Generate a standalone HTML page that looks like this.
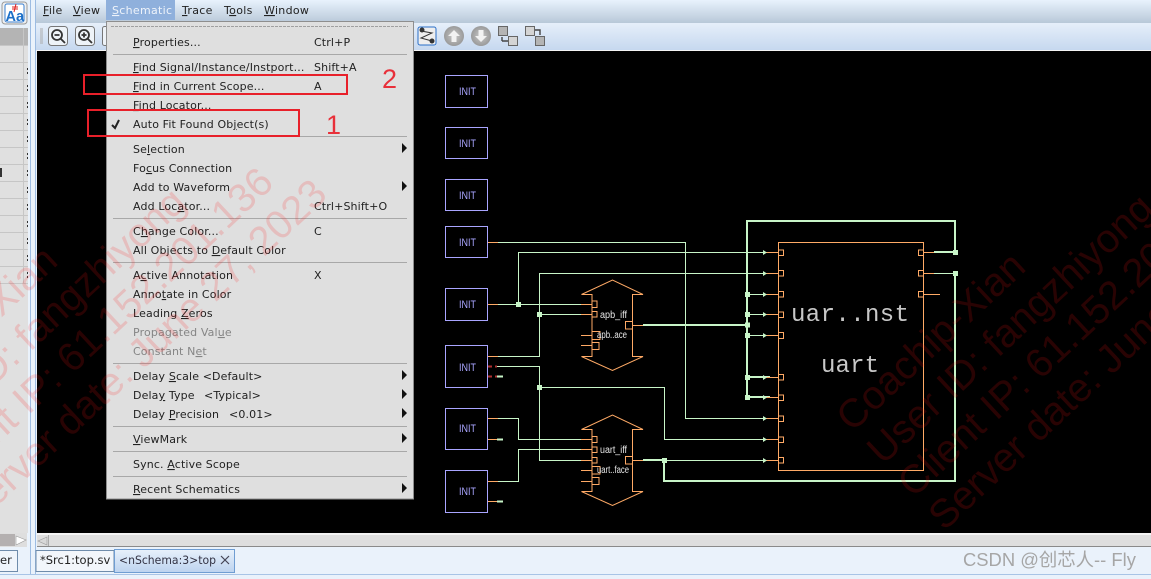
<!DOCTYPE html>
<html><head><meta charset="utf-8"><style>
html,body{margin:0;padding:0;background:#000}
svg{display:block}
.m text{font:11px "DejaVu Sans",sans-serif;fill:#222;letter-spacing:.13px}
.m text.d{fill:#858585}
.u{text-decoration:underline}
.g{stroke:#c8f5c8;fill:none;stroke-width:1}
.t{stroke:#c8f5c8;fill:none;stroke-width:2}
.o{stroke:#ffaa66;fill:none;stroke-width:1}
.b{stroke:#a9a5ff;fill:none;stroke-width:1}
.j{fill:#c8f5c8}
.il{font:11px "Liberation Sans",sans-serif;fill:#a9a5ff}
.l{font:10px "Liberation Sans",sans-serif;fill:#e8e8e8}
.big{font:24px "Liberation Mono",monospace;fill:#c8c8c8}
.w text{font:40px "Liberation Sans",sans-serif;fill:#ff1010;fill-opacity:.16}
</style></head><body>
<svg xmlns="http://www.w3.org/2000/svg" width="1151" height="579" viewBox="0 0 1151 579">
<defs>
<linearGradient id="mb" x1="0" y1="0" x2="0" y2="1"><stop offset="0" stop-color="#e8f2fd"/><stop offset="1" stop-color="#b8c8d8"/></linearGradient>
<linearGradient id="tb" x1="0" y1="0" x2="0" y2="1"><stop offset="0" stop-color="#e6effa"/><stop offset="1" stop-color="#c6d8ef"/></linearGradient>
<linearGradient id="tab" x1="0" y1="0" x2="0" y2="1"><stop offset="0" stop-color="#e8f1fb"/><stop offset="1" stop-color="#bcd3ef"/></linearGradient>
<radialGradient id="rb"><stop offset="0" stop-color="#c8c8c8"/><stop offset="1" stop-color="#9a9a9a"/></radialGradient>
</defs>
<rect width="1151" height="579" fill="#eaf2fb"/>
<!-- left panel -->
<rect x="0" y="0" width="30" height="28" fill="#e8f1fb"/>
<rect x="0" y="28" width="28" height="17" fill="#b4b4b4"/>
<rect x="0" y="45" width="28" height="488" fill="#e0e0e0"/>
<g stroke="#c6c6c6" stroke-width="1">
<path d="M0 45.5H28M0 62.5H28M0 79.5H28M0 96.5H28M0 113.5H28M0 130.5H28M0 147.5H28M0 164.5H28M0 181.5H28M0 198.5H28M0 215.5H28M0 232.5H28M0 249.5H28M0 266.5H28M0 283.5H28M23.5 28V284"/>
</g>
<g fill="#333"><rect x="27" y="68" width="1" height="2"/><rect x="27" y="72" width="1" height="2"/><rect x="27" y="85" width="1" height="2"/><rect x="27" y="89" width="1" height="2"/><rect x="27" y="102" width="1" height="2"/><rect x="27" y="106" width="1" height="2"/><rect x="27" y="119" width="1" height="2"/><rect x="27" y="123" width="1" height="2"/><rect x="27" y="136" width="1" height="2"/><rect x="27" y="140" width="1" height="2"/><rect x="27" y="153" width="1" height="2"/><rect x="27" y="157" width="1" height="2"/><rect x="27" y="170" width="1" height="2"/><rect x="27" y="174" width="1" height="2"/><rect x="27" y="187" width="1" height="2"/><rect x="27" y="191" width="1" height="2"/><rect x="27" y="204" width="1" height="2"/><rect x="27" y="208" width="1" height="2"/><rect x="27" y="221" width="1" height="2"/><rect x="27" y="225" width="1" height="2"/><rect x="27" y="238" width="1" height="2"/><rect x="27" y="242" width="1" height="2"/><rect x="27" y="255" width="1" height="2"/><rect x="27" y="259" width="1" height="2"/><rect x="27" y="272" width="1" height="2"/><rect x="27" y="276" width="1" height="2"/><rect x="0" y="168" width="2" height="9"/></g>
<rect x="0" y="533" width="27" height="14" fill="#dedede"/>
<rect x="0" y="534" width="15" height="12" fill="#b4b0b0"/>
<path d="M16 536L26 540L16 545Z" fill="#fff" stroke="#999" stroke-width=".6"/>
<rect x="0" y="547" width="28" height="27" fill="#eaf2fb"/>
<path d="M0 550.5H17.5V571.5H0" fill="#f0f5fb" stroke="#6f8cab"/>
<text x="0" y="564" font-family="DejaVu Sans" font-size="11.5" fill="#222">er</text>
<!-- icon Aa -->
<rect x="2" y="2" width="25" height="22" rx="3" fill="#f0f0f0" stroke="#999"/>
<rect x="5" y="4" width="19" height="18" rx="2" fill="#fff" stroke="#3a7fd0"/>
<text x="5.500" y="21" font-family="Liberation Sans" font-weight="bold" font-size="14.500" fill="#1d70c8">Aa</text>
<path d="M12 7H18M12 9H18M16 4L14 12" stroke="#e02020" fill="none" stroke-width="1"/>
<!-- separators -->
<rect x="30" y="0" width="1" height="574" fill="#9dbce2"/>
<rect x="35" y="0" width="1" height="574" fill="#9dbce2"/>
<rect x="31" y="0" width="4" height="574" fill="#eaf2fb"/>
<!-- menubar / toolbar -->
<rect x="36" y="0" width="1115" height="23" fill="url(#mb)"/>
<rect x="36" y="23" width="1115" height="27" fill="url(#tb)"/>
<rect x="36" y="50" width="1115" height="1" fill="#f4f4f4"/>
<rect x="106" y="0" width="69" height="20" fill="#8fb0dc"/>
<g font-family="DejaVu Sans" font-size="11" fill="#222" letter-spacing=".3">
<text x="43" y="14"><tspan class="u">F</tspan>ile</text>
<text x="73" y="14"><tspan class="u">V</tspan>iew</text>
<text x="112" y="14" fill="#eef3fa"><tspan class="u">S</tspan>chematic</text>
<text x="182" y="14"><tspan class="u">T</tspan>race</text>
<text x="224" y="14">T<tspan class="u">o</tspan>ols</text>
<text x="264" y="14"><tspan class="u">W</tspan>indow</text>
</g>
<!-- toolbar icons -->
<path d="M40 29H43M40 31H43M40 33H43M40 35H43M40 37H43M40 39H43M40 41H43M40 43H43" stroke="#aaa"/>
<g fill="#eef3f8" stroke="#777"><rect x="48.500" y="26.500" width="19" height="19" rx="3"/><rect x="75.500" y="26.500" width="19" height="19" rx="3"/><rect x="102.500" y="26.500" width="8" height="19" rx="2"/></g>
<g fill="none" stroke="#333" stroke-width="1.800"><circle cx="57" cy="35" r="5"/><path d="M61 39L65 43M54.500 35H59.500"/><circle cx="84" cy="35" r="5"/><path d="M88 39L92 43M81.500 35H86.500M84 32.500V37.500"/></g>
<rect x="418" y="27" width="18" height="18" rx="2" fill="#eee" stroke="#2a6fc8"/>
<path d="M421 31L432 33L421 38L432 41" stroke="#333" fill="none"/>
<circle cx="422" cy="30" r="2.500" fill="#333"/><circle cx="432" cy="41" r="2.500" fill="#333"/>
<circle cx="454" cy="36" r="10" fill="url(#rb)"/><path d="M454 30L460 36H456.500V42H451.500V36H448Z" fill="#f2f2f2"/>
<circle cx="481" cy="36" r="10" fill="url(#rb)"/><path d="M481 42L487 36H483.500V30H478.500V36H475Z" fill="#f2f2f2"/>
<g fill="#b4b4b4" stroke="#666"><rect x="498.500" y="26.500" width="9" height="9"/><rect x="508.500" y="36.500" width="9" height="9" fill="#d4d4d4"/><rect x="525.500" y="26.500" width="9" height="9" fill="#d4d4d4"/><rect x="535.500" y="36.500" width="9" height="9"/></g>
<path d="M502 41H508M502 41V37M535 30H540V35" stroke="#444" fill="none" stroke-width="1.400"/>
<!-- canvas -->
<rect x="37" y="51" width="1114" height="482" fill="#000"/>
<!-- INIT boxes -->
<g class="b">
<rect x="445.500" y="75.500" width="42" height="32" class="b"/>
<rect x="445.500" y="127.500" width="42" height="31" class="b"/>
<rect x="445.500" y="179.500" width="42" height="31" class="b"/>
<rect x="445.500" y="226.500" width="42" height="31" class="b"/>
<rect x="445.500" y="288.500" width="42" height="32" class="b"/>
<rect x="445.500" y="345.500" width="42" height="42" class="b"/>
<rect x="445.500" y="408.500" width="42" height="41" class="b"/>
<rect x="445.500" y="470.500" width="42" height="42" class="b"/>
</g>
<g class="il">
<text x="459" y="95" textLength="17" lengthAdjust="spacingAndGlyphs">INIT</text>
<text x="459" y="147" textLength="17" lengthAdjust="spacingAndGlyphs">INIT</text>
<text x="459" y="199" textLength="17" lengthAdjust="spacingAndGlyphs">INIT</text>
<text x="459" y="246" textLength="17" lengthAdjust="spacingAndGlyphs">INIT</text>
<text x="459" y="308" textLength="17" lengthAdjust="spacingAndGlyphs">INIT</text>
<text x="459" y="371" textLength="17" lengthAdjust="spacingAndGlyphs">INIT</text>
<text x="459" y="432" textLength="17" lengthAdjust="spacingAndGlyphs">INIT</text>
<text x="459" y="495" textLength="17" lengthAdjust="spacingAndGlyphs">INIT</text>
</g>
<!-- thin wires -->
<g class="g">
<path d="M498 242.500H685.500V418.500H765"/>
<path d="M498 304.500H581M518.500 304.500V252.500H765"/>
<path d="M498 356.500H539.500V273.500H765M539.500 314.500H581"/>
<path d="M497 366.500H539.500V460.500H581M539.500 387.500H664.500V439.500H765"/>
<path d="M498 418.500H518.500V439.500H581"/>
<path d="M498 481.500H518.500V449.500H581"/>
<path d="M664 460.500H765"/>
<path d="M747 294.500H765M747 314.500H765M747 335.500H765"/>
<path d="M934 273.500H955"/>
</g>
<!-- thick wires -->
<g class="t">
<path d="M643 325H747"/>
<path d="M643 460H664V481H955V273"/>
<path d="M934 252H955V221H747V397"/>
<path d="M747 377H770M747 397H770"/>
<path d="M497 376.500H503M497 439.500H503M497 501.500H503"/>
</g>
<!-- orange stubs -->
<g class="o">
<path d="M488 242.500H498M488 304.500H498M488 356.500H498M488 418.500H498M488 439.500H497M488 481.500H498M488 501.500H497"/>
<path d="M581 304.500H592M581 314.500H592M581 335.500H592M581 345.500H592"/>
<path d="M581 439.500H592M581 449.500H592M581 460.500H592M581 470.500H592M581 481.500H592"/>
<path d="M632 325.500H643M632 460.500H643"/>
<path d="M765 252.500H778M765 273.500H778M765 294.500H778M765 314.500H778M765 335.500H778M765 377.500H778M765 397.500H778M765 418.500H778M765 439.500H778M765 460.500H778"/>
<path d="M924 252.500H934M924 273.500H934M924 294.500H940"/>
<!-- UART -->
<rect x="778.500" y="242.500" width="145" height="228"/>
<path d="M778.500 250H783.500V255.500H778.500M778.500 270.500H783.500V276H778.500M778.500 291.500H783.500V297H778.500M778.500 312H783.500V317.500H778.500M778.500 332.500H783.500V338.500H778.500M778.500 374.500H783.500V380H778.500M778.500 395H783.500V400.500H778.500M778.500 416H783.500V421.500H778.500M778.500 437H783.500V442.500H778.500M778.500 457.500H783.500V463H778.500"/>
<path d="M923.500 250H918.500V255.500H923.500M923.500 270.500H918.500V276H923.500M923.500 291.500H918.500V297H923.500"/>
<!-- apb -->
<path d="M581.500 294.500L612.500 280L643 294.500H632.500V356.500H643L612.500 370.500L581.500 356.500H592V294.500Z"/>
<path d="M592 301H597V307.500H592M592 311.500H597V317H592M592 331.500H600V339.500H592M592 342.500H599V349.500H592M632 321.500H625.500V329H632"/>
<!-- uart iff -->
<path d="M581.500 429.500L612.500 415L643 429.500H632.500V491.500H643L612.500 505.500L581.500 491.500H592V429.500Z"/>
<path d="M592 436.500H597V442.500H592M592 447H597V452.500H592M592 457.500H597V463H592M592 466.500H600V474H592M592 477.500H599V484.500H592M632 456.500H625.500V464H632"/>
</g>
<!-- red stubs -->
<path d="M488 366.500H497M488 376.500H497" stroke="#b03030" stroke-width="2" stroke-dasharray="4 3 3 0" fill="none"/>
<!-- arrows -->
<g fill="#c8f5c8">
<path d="M763 250L767 252.500L763 255ZM763 271L767 273.500L763 276ZM763 292L767 294.500L763 297ZM763 312L767 314.500L763 317ZM763 333L767 335.500L763 338ZM763 375L767 377.500L763 380ZM763 395L767 397.500L763 400ZM763 416L767 418.500L763 421ZM763 437L767 439.500L763 442ZM763 458L767 460.500L763 463Z"/>
</g>
<!-- junctions -->
<g class="j">
<rect x="516" y="302" width="5" height="5"/><rect x="537" y="312" width="5" height="5"/><rect x="537" y="385" width="5" height="5"/>
<rect x="662" y="458" width="5" height="5"/>
<rect x="745" y="292" width="5" height="5"/><rect x="745" y="312" width="5" height="5"/><rect x="745" y="322.500" width="5" height="5"/><rect x="745" y="333" width="5" height="5"/><rect x="745" y="375" width="5" height="5"/><rect x="745" y="395" width="5" height="5"/>
<rect x="953" y="250" width="5" height="5"/><rect x="953" y="271" width="5" height="5"/>
</g>
<!-- labels -->
<text class="l" x="600" y="318" textLength="27" lengthAdjust="spacingAndGlyphs">apb_iff</text>
<text class="l" x="597" y="338" textLength="30" lengthAdjust="spacingAndGlyphs">apb..ace</text>
<text class="l" x="600" y="453" textLength="27" lengthAdjust="spacingAndGlyphs">uart_iff</text>
<text class="l" x="597" y="473" textLength="32" lengthAdjust="spacingAndGlyphs">uart..face</text>
<text class="big" x="791" y="321" textLength="118">uar..nst</text>
<text class="big" x="821" y="372" textLength="58">uart</text>
<!-- menu -->
<rect x="106.500" y="21.500" width="307" height="477.500" fill="#dfdfdf" stroke="#8e8e8e"/>
<path d="M111 26.500H408" stroke="#a0a0a0" stroke-dasharray="3 1"/>
<path d="M113 54.500H407M113 136.500H407M113 218.500H407M113 262.500H407M113 363.500H407M113 426.500H407M113 451.500H407M113 476.500H407" stroke="#a8a8a8"/>
<g class="m">
<text x="133" y="46"><tspan class="u">P</tspan>roperties...</text><text x="314" y="46">Ctrl+P</text>
<text x="133" y="71"><tspan class="u">F</tspan>ind Signal/Instance/Instport...</text><text x="314" y="71">Shift+A</text>
<text x="133" y="90"><tspan class="u">F</tspan>ind in Current Scope...</text><text x="314" y="90">A</text>
<text x="133" y="109"><tspan class="u">F</tspan>ind Locator...</text>
<text x="133" y="128">Auto Fit Found Ob<tspan class="u">j</tspan>ect(s)</text>
<text x="133" y="153">Se<tspan class="u">l</tspan>ection</text>
<text x="133" y="172">Fo<tspan class="u">c</tspan>us Connection</text>
<text x="133" y="191">Add to Waveform</text>
<text x="133" y="210">Add Loc<tspan class="u">a</tspan>tor...</text><text x="314" y="210">Ctrl+Shift+O</text>
<text x="133" y="235">C<tspan class="u">h</tspan>ange Color...</text><text x="314" y="235">C</text>
<text x="133" y="254">All Objects to <tspan class="u">D</tspan>efault Color</text>
<text x="133" y="279">A<tspan class="u">c</tspan>tive Annotation</text><text x="314" y="279">X</text>
<text x="133" y="298">Anno<tspan class="u">t</tspan>ate in Color</text>
<text x="133" y="317">Leading <tspan class="u">Z</tspan>eros</text>
<text x="133" y="336" class="d">Propagated Val<tspan class="u">u</tspan>e</text>
<text x="133" y="355" class="d">Constant N<tspan class="u">e</tspan>t</text>
<text x="133" y="380">Delay <tspan class="u">S</tspan>cale &lt;Default&gt;</text>
<text x="133" y="399">Dela<tspan class="u">y</tspan> Type  <tspan x="204">&lt;Typical&gt;</tspan></text>
<text x="133" y="418">Delay <tspan class="u">P</tspan>recision <tspan x="229">&lt;0.01&gt;</tspan></text>
<text x="133" y="443"><tspan class="u">V</tspan>iewMark</text>
<text x="133" y="468">Sync. <tspan class="u">A</tspan>ctive Scope</text>
<text x="133" y="493"><tspan class="u">R</tspan>ecent Schematics</text>
</g>
<path d="M112 125L115 128L119 120" stroke="#222" stroke-width="2" fill="none"/>
<g fill="#111"><path d="M402 143L407 148L402 153ZM402 181L407 186L402 191ZM402 370L407 375L402 380ZM402 389L407 394L402 399ZM402 408L407 413L402 418ZM402 433L407 438L402 443ZM402 483L407 488L402 493Z"/></g>
<!-- red annotations -->
<rect x="84" y="75" width="263" height="19" fill="none" stroke="#e8202a" stroke-width="2"/>
<rect x="88" y="110" width="211" height="26" fill="none" stroke="#e8202a" stroke-width="2"/>
<text x="382" y="88" font-family="Liberation Sans" font-size="27" fill="#e8303a">2</text>
<text x="326" y="134" font-family="Liberation Sans" font-size="27" fill="#e8303a">1</text>
<!-- watermark -->
<g class="w">
<g transform="translate(852 433) rotate(-43)"><text x="0" y="0">Coachip-Xian</text><text x="0" y="45">User ID: fangzhiyong</text><text x="0" y="90">Client IP: 61.152.201.136</text><text x="0" y="135">Server date: June 27, 2023</text></g>
<g transform="translate(-116 427) rotate(-43)"><text x="0" y="0">Coachip-Xian</text><text x="0" y="45">User ID: fangzhiyong</text><text x="0" y="90">Client IP: 61.152.201.136</text><text x="0" y="135">Server date: June 27, 2023</text></g>
</g>
<!-- scrollbar -->
<rect x="37" y="533" width="1114" height="2" fill="#f4f4f4"/>
<rect x="37" y="535" width="1114" height="11" fill="#dedede"/>
<rect x="37" y="546" width="1114" height="1" fill="#8a8a8a"/>
<path d="M47 537L38 541L47 545Z" fill="#d8d8d8" stroke="#999" stroke-width=".6"/>
<rect x="48" y="535" width="1" height="11" fill="#aaa"/>
<rect x="36" y="547" width="1115" height="27" fill="#eaf2fb"/>
<rect x="0" y="574" width="1151" height="1" fill="#a8c4e6"/>
<rect x="0" y="575" width="1151" height="4" fill="#eaf2fb"/>
<!-- tabs -->
<path d="M36 550.500H114V571.500H36Z" fill="#f2f6fb" stroke="#6f8cab"/>
<path d="M114.500 549.500H234.500V572.500H114.500Z" fill="url(#tab)" stroke="#6f9dd2"/>
<g font-family="DejaVu Sans" font-size="11.500" fill="#222">
<text x="40" y="564">*Src1:top.sv</text>
<text x="119" y="564" fill="#334" textLength="97" lengthAdjust="spacingAndGlyphs">&lt;nSchema:3&gt;top</text>
</g>
<path d="M221 556L229 564M229 556L221 564" stroke="#445" stroke-width="1.200"/>
<text x="963" y="566" font-family="'Liberation Sans','Noto Sans CJK SC',sans-serif" font-size="18.400" fill="#a6a6a6">CSDN @创芯人-- Fly</text>
</svg>
</body></html>
